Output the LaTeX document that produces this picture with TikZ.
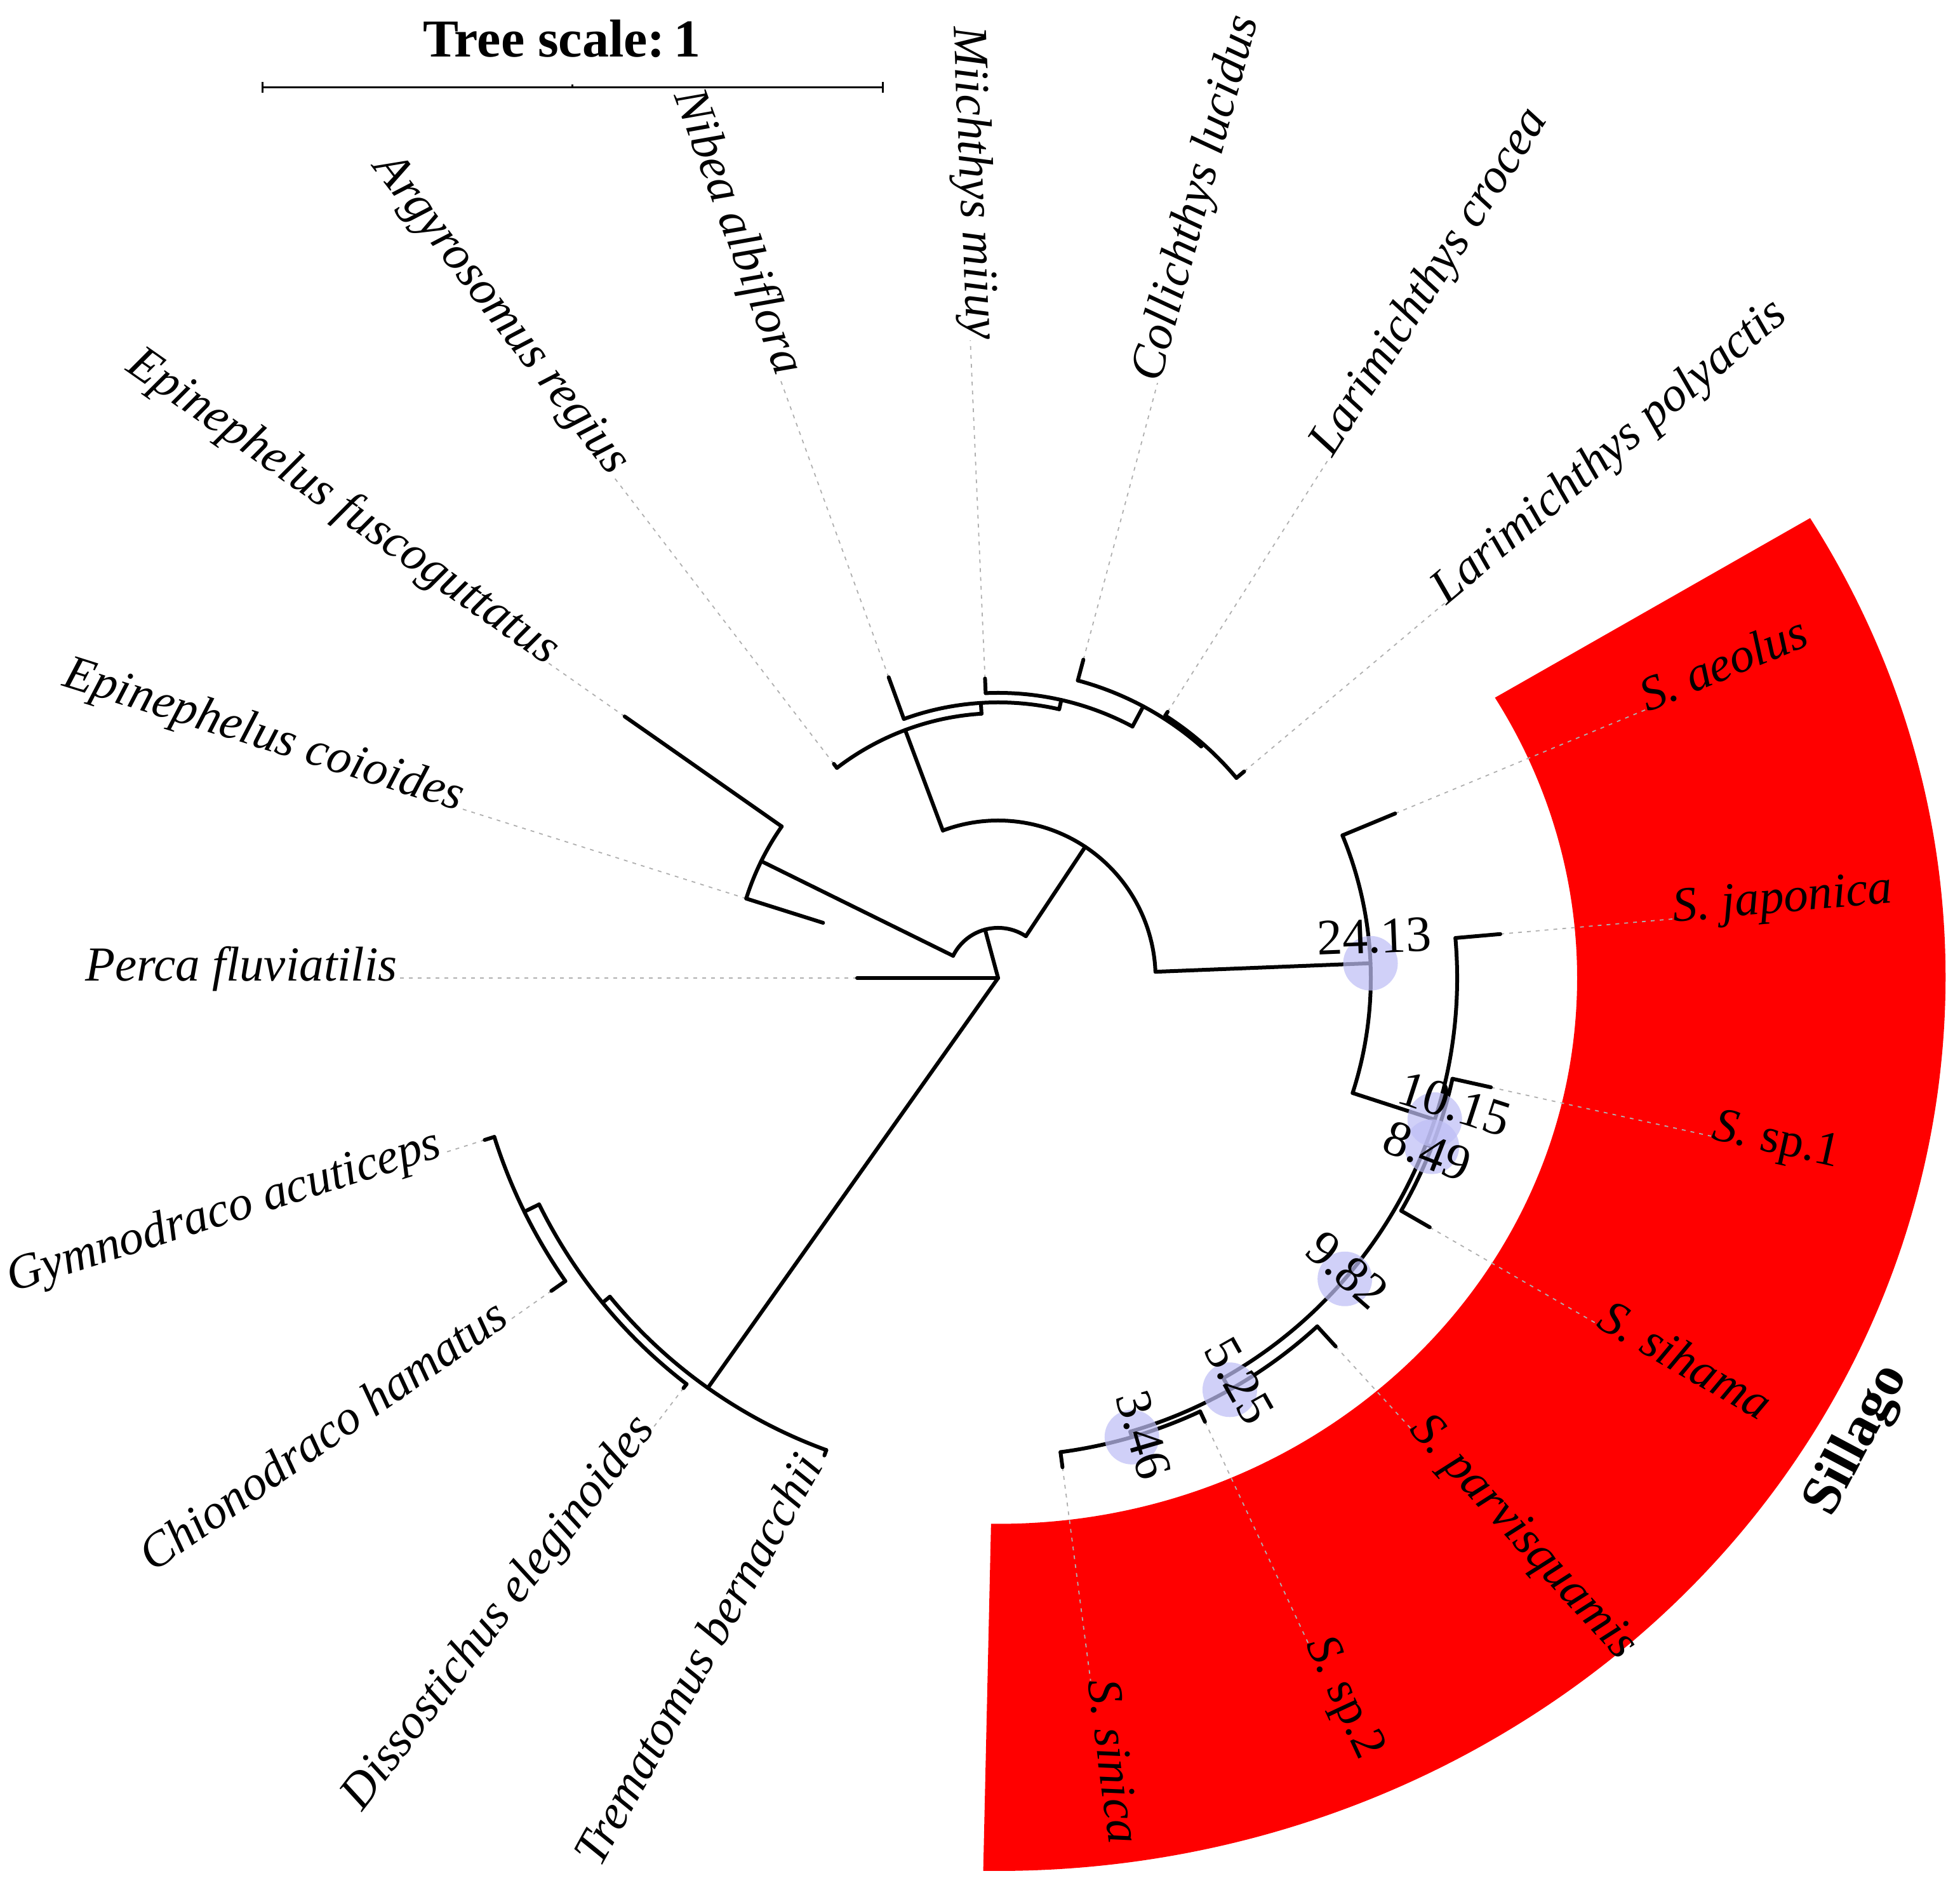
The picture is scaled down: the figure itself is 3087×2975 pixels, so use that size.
\documentclass[tikz,border=0pt]{standalone}
\usepackage{fontspec}
\setmainfont{Liberation Serif}
\usetikzlibrary{calc}
\definecolor{dotgray}{RGB}{175,175,175}
\definecolor{nodefill}{RGB}{190,190,245}
\definecolor{bandred}{RGB}{255,0,0}
\begin{document}
\begin{tikzpicture}[x=0.5pt,y=0.5pt,
  br/.style={line width=3pt, line cap=round, line join=miter},
  dotl/.style={draw=dotgray, line width=0.9pt, dash pattern=on 3pt off 4pt},
  lab/.style={font=\fontsize{38.5}{40}\selectfont\itshape, inner sep=0pt},
  nlab/.style={font=\fontsize{40}{42}\selectfont, inner sep=0pt, anchor=base},
  ncirc/.style={fill=nodefill, fill opacity=0.72, draw=none}
]
\useasboundingbox (0,0) rectangle (3087,2975);
\begin{scope}[shift={(1572,1435)}]
% clade band
\fill[bandred] (31:1492 and 1406) arc[start angle=31, end angle=-90.9, x radius=1492, y radius=1406]
  -- (-90.7:912 and 859.5) arc[start angle=-90.7, end angle=30.9, x radius=912, y radius=859.5] -- cycle;
% dotted leaders
\foreach \a/\ra/\rb in {180/222/946, 162.5/416/889, 145/718/865, 127.5/425/998, 110/504/1007,
  92.5/472/1005, 75/519/970, 57.5/497/973, 40/506/918, 22.5/677/1105, 5/794/1068,
  -12.5/795/1150, -30/785/1088, -47.5/787/962, -65/771/1155, -82.5/777/1116,
  232.5/814/892, 215/859/940, 197.5/848/917}
  \draw[dotl] (\a:\ra) -- (\a:\rb);
% radial branches
\foreach \a/\ra/\rb in {180/0/222, 105.08/0/79, 234.69/0/791,
  153.75/79/416, 145/416/718, 162.5/416/289,
  56.41/79/248, 2.27/248/587, 22.5/587/677, -17.97/587/723, 5/723/794,
  -21.25/723/733, -12.5/733/795, -30/733/785, -60.625/723/744, -47.5/744/787,
  -73.75/744/753, -65/753/771, -82.5/753/777,
  110.55/248/417, 127.5/417/425, 93.59/417/434, 110/434/504, 77.19/434/449,
  92.5/449/472, 61.875/449/485, 75/485/519, 48.75/485/490, 57.5/490/497, 40/490/506,
  250/791/800, 219.375/791/806, 232.5/806/814, 206.25/806/832, 197.5/832/848, 215/832/859}
  \draw[br] (\a:\ra) -- (\a:\rb);
% arcs
\foreach \a/\b/\r in {56.41/153.75/79, 145/162.5/416, 2.27/110.55/248, -17.97/22.5/587,
  -60.625/5/723, -30/-12.5/733, -73.75/-47.5/744, -82.5/-65/753,
  93.59/127.5/417, 77.19/110/434, 61.875/92.5/449, 48.75/75/485, 40/57.5/490,
  219.375/250/791, 206.25/232.5/806, 197.5/215/832}
  \draw[br] (\a:\r) arc[start angle=\a, end angle=\b, radius=\r];
% node symbols
\foreach \a/\r in {2.27/587, -17.97/723, -40.94/723, -21.25/733, -60.625/744, -73.75/753}
  \fill[ncirc] (\a:\r) circle[radius=43];
% node values
\foreach \t/\a/\r/\u/\v in {24.13/2.27/587/8/16, 10.15/-17.97/723/22/7, 9.82/-40.94/723/-6/-13,
  8.49/-21.25/733/-4/-35, 5.25/-60.625/744/-5/-6, 3.46/-73.75/753/2/-7}
  \node[nlab, rotate=\a] at ($(\a:\r)+(\a:\u)+(\a+90:\v)$) {\t};
% right-hand labels
\foreach \a/\r/\t in {75/970/Collichthys lucidus, 57.5/973/Larimichthys crocea,
  40/918/Larimichthys polyactis, 22.5/1105/S. aeolus, 5/1068/S. japonica,
  -12.5/1150/{S.\ \textup{sp.1}}, -30/1088/S. sihama, -47.5/962/S. parvisquamis,
  -65/1155/{S.\ \textup{sp.2}}, -82.5/1116/S. sinica}
  \node[lab, anchor=mid west, rotate=\a] at (\a:\r) {\t};
% left-hand labels
\foreach \a/\r/\t in {180/946/Perca fluviatilis, 162.5/889/Epinephelus coioides,
  145/865/Epinephelus fuscoguttatus, 127.5/998/Argyrosomus regius, 110/1007/Nibea albiflora,
  92.5/1005/Miichthys miiuy,
  232.5/892/Dissostichus eleginoides, 215/940/Chionodraco hamatus, 197.5/917/Gymnodraco acuticeps}
  \node[lab, anchor=mid east, rotate=\a-180] at (\a:\r) {\t};
\node[lab, anchor=mid east, rotate=61] at (250:814) {Trematomus bernacchii};
\end{scope}
% scale
\coordinate (sbL) at (413,2837);
\coordinate (sbR) at (1390,2837);
\coordinate (sbM) at (901.5,2837);
\draw[line width=1.5pt] (sbL) -- (sbR);
\draw[line width=1.5pt] ($(sbL)+(0,-8.5)$) -- ($(sbL)+(0,8.5)$);
\draw[line width=1.5pt] ($(sbR)+(0,-8.5)$) -- ($(sbR)+(0,8.5)$);
\draw[line width=1.5pt] (sbM) -- ($(sbM)+(0,5)$);
\node[font=\fontsize{42}{44}\selectfont\bfseries, anchor=base, inner sep=0pt] (ts) at (885,2885) {Tree scale:\,1};
\node[font=\fontsize{44}{46}\selectfont\bfseries, rotate=62, inner sep=0pt] (sil) at (2926,707) {Sillago};
\end{tikzpicture}
\end{document}
